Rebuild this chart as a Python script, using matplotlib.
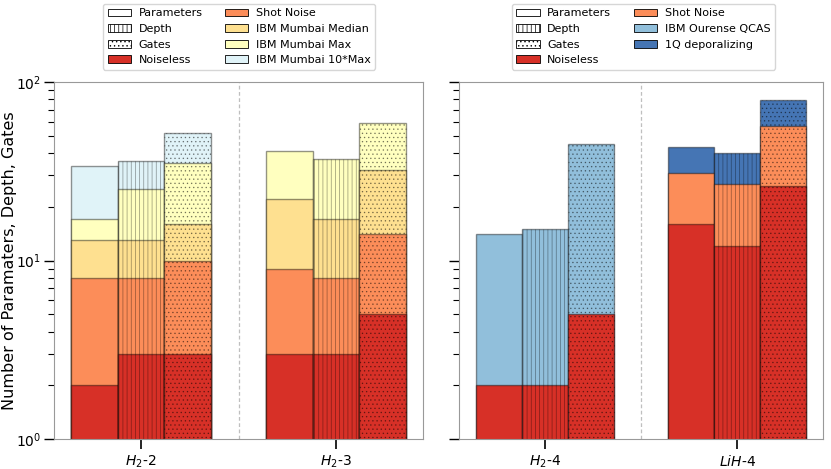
import numpy as np
import matplotlib
matplotlib.use("Agg")
import matplotlib.pyplot as plt
from matplotlib.patches import Patch

nan = np.nan

# ---------------- data ----------------
measures = ["Parameters", "Depth", "Gates"]
hatches = ["", "||||", "...."]

left_groups = ["$H_2$-2", "$H_2$-3"]
right_groups = ["$H_2$-4", "$LiH$-4"]

# left panel (per measure, per group)
L_noiseless = {"Parameters": [2, 3], "Depth": [3, 3], "Gates": [3, 5]}
L_shot = {"Parameters": [8, 9], "Depth": [8, 8], "Gates": [10, 14]}
L_median = {"Parameters": [13, 22], "Depth": [13, 17], "Gates": [16, 32]}
L_max = {"Parameters": [17, 41], "Depth": [25, 37], "Gates": [35, 59]}
L_max10 = {"Parameters": [34, nan], "Depth": [36, nan], "Gates": [52, nan]}

# right panel
R_noiseless = {"Parameters": [2, 16], "Depth": [2, 12], "Gates": [5, 26]}
R_shot = {"Parameters": [nan, 31], "Depth": [nan, 27], "Gates": [nan, 57]}
R_ourense = {"Parameters": [14, nan], "Depth": [15, nan], "Gates": [45, nan]}
R_depol = {"Parameters": [nan, 43], "Depth": [nan, 40], "Gates": [nan, 79]}

c_noiseless = "#d73027"
c_shot = "#fc8d59"
c_median = "#fee090"
c_max = "#ffffbf"
c_max10 = "#e0f3f8"
c_ourense = "#91bfdb"
c_depol = "#4575b4"

# ---------------- style ----------------
plt.rcParams["hatch.linewidth"] = 0.5
edge = (0, 0, 0, 0.42)
spine_col = "0.6"

fig = plt.figure(figsize=(8.31, 4.69), dpi=100)
axL = fig.add_axes([54 / 831, 30 / 469, 369 / 831, 357 / 469])
axR = fig.add_axes([459 / 831, 30 / 469, 364 / 831, 357 / 469], sharey=axL)

w = 0.24


def draw(ax, groups, series):
    x = np.arange(len(groups))
    for mi, m in enumerate(measures):
        off = (mi - 1) * w
        for vals, col in series:  # drawn largest first
            v = np.array(vals[m], dtype=float)
            ok = ~np.isnan(v)
            ax.bar(x[ok] + off, v[ok], width=w, bottom=0, color=col,
                   edgecolor=edge, linewidth=1.0, hatch=hatches[mi])
    ax.set_xticks(x)
    ax.set_xticklabels(groups, fontsize=10)
    ax.axvline(0.5, color="0.75", linestyle=(0, (3, 2)), linewidth=0.9)
    for s in ax.spines.values():
        s.set_color(spine_col)
    ax.tick_params(axis="x", length=7, width=1.2, color="k")
    ax.tick_params(axis="y", which="major", length=7.5, width=1.0, color="k",
                   labelsize=10, pad=1.5)
    ax.tick_params(axis="y", which="minor", length=4.5, width=0.8, color="k")


draw(axL, left_groups, [(L_max10, c_max10), (L_max, c_max), (L_median, c_median),
                        (L_shot, c_shot), (L_noiseless, c_noiseless)])
draw(axR, right_groups, [(R_depol, c_depol), (R_ourense, c_ourense),
                         (R_shot, c_shot), (R_noiseless, c_noiseless)])

axL.set_yscale("log")
axL.set_ylim(1, 100)
axR.tick_params(axis="y", labelleft=False)
axL.set_ylabel("Number of Paramaters, Depth, Gates", fontsize=11.5)
axL.yaxis.set_label_coords(-0.099, 0.5)
for ax in (axL, axR):
    ax.set_xlim(-0.446, 1.446)


def base_handles():
    return [Patch(facecolor="white", edgecolor="k", linewidth=0.6, label="Parameters"),
            Patch(facecolor="white", edgecolor="k", linewidth=0.6, hatch="||||", label="Depth"),
            Patch(facecolor="white", edgecolor="k", linewidth=0.6, hatch="....", label="Gates"),
            Patch(facecolor=c_noiseless, edgecolor="k", linewidth=0.6, label="Noiseless")]


hL = base_handles() + [
    Patch(facecolor=c_shot, edgecolor="k", linewidth=0.6, label="Shot Noise"),
    Patch(facecolor=c_median, edgecolor="k", linewidth=0.6, label="IBM Mumbai Median"),
    Patch(facecolor=c_max, edgecolor="k", linewidth=0.6, label="IBM Mumbai Max"),
    Patch(facecolor=c_max10, edgecolor="k", linewidth=0.6, label="IBM Mumbai 10*Max")]
hR = base_handles() + [
    Patch(facecolor=c_shot, edgecolor="k", linewidth=0.6, label="Shot Noise"),
    Patch(facecolor=c_ourense, edgecolor="k", linewidth=0.6, label="IBM Ourense QCAS"),
    Patch(facecolor=c_depol, edgecolor="k", linewidth=0.6, label="1Q deporalizing")]

common = dict(ncol=2, loc="lower left", fontsize=8, labelspacing=0.5,
              columnspacing=2.0, borderaxespad=0, handletextpad=0.7,
              handlelength=2.1, borderpad=0.4)
axL.legend(handles=hL, bbox_to_anchor=(0.133, 1.035), **common)
axR.legend(handles=hR, bbox_to_anchor=(0.145, 1.035), **common)

fig.savefig("out.png", dpi=100)
